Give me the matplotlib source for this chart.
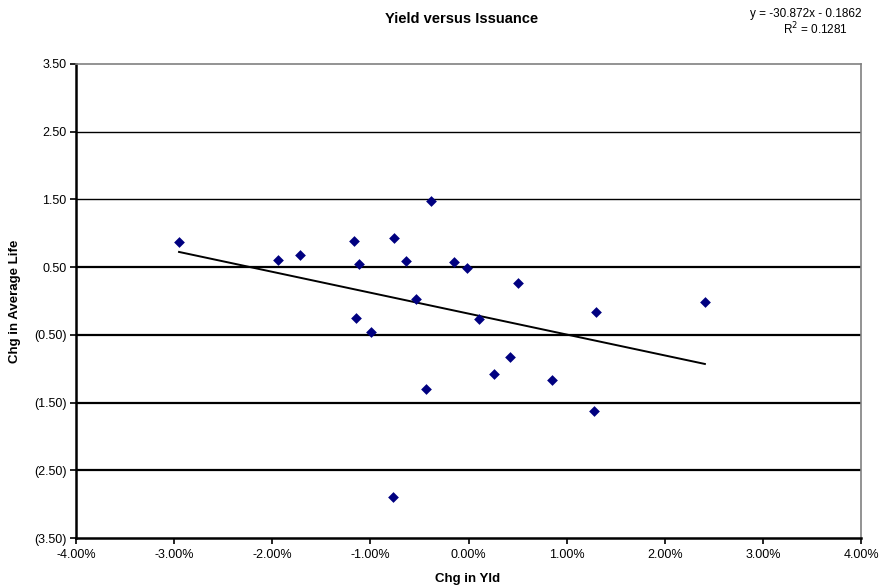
import matplotlib
matplotlib.use("Agg")
import matplotlib.pyplot as plt
from matplotlib.ticker import FuncFormatter, MultipleLocator
import numpy as np

plt.rcParams['font.family'] = ['Liberation Sans', 'DejaVu Sans']

# Data (x in %, y in years)
chg_yld = [-2.950, -1.941, -1.717, -1.169, -1.112, -0.758, -0.636, -0.381,
           -0.537, -1.149, -0.990, -0.150, -0.017, 0.506, 0.108, 1.298,
           2.409, 0.427, 0.258, 0.852, -0.432, 1.283, -0.766]
chg_avg_life = [0.875, 0.600, 0.679, 0.890, 0.550, 0.934, 0.590, 1.481,
                0.033, -0.247, -0.451, 0.571, 0.491, 0.265, -0.267, -0.168,
                -0.020, -0.823, -1.075, -1.172, -1.301, -1.626, -2.896]

slope = -30.872
intercept = -0.1862
r_squared = 0.1281

title = "Yield versus Issuance"
xlabel = "Chg in Yld"
ylabel = "Chg in Average Life"

x = np.array(chg_yld) / 100.0
y = np.array(chg_avg_life)

fig = plt.figure(figsize=(8.81, 5.86), dpi=100)
ax = fig.add_axes([76/881, 1-538/586, (861-76)/881, (538-64)/586])

ax.set_xlim(-0.04, 0.04)
ax.set_ylim(-3.5, 3.5)
ax.xaxis.set_major_locator(MultipleLocator(0.01))
ax.set_yticks(np.arange(-3.5, 3.51, 1.0))

def yfmt(v, pos):
    if v < 0:
        return "({:.2f})".format(abs(v))
    return "{:.2f}".format(v)

ax.yaxis.set_major_formatter(FuncFormatter(yfmt))
ax.xaxis.set_major_formatter(FuncFormatter(lambda v, p: "{:.2f}%".format(v*100)))

for yt in np.arange(-2.5, 3.0, 1.0):
    lw = 1.0 if yt > 1 else 1.6
    ax.axhline(yt, color='black', lw=lw, zorder=1)

# Trendline
xl = np.array([x.min(), x.max()])
ax.plot(xl, slope*xl + intercept, color='black', lw=1.4, zorder=2)

ax.scatter(x, y, marker='D', s=30, color='#000080', zorder=3, linewidths=0)

for s in ['top', 'right']:
    ax.spines[s].set_color('#808080')
    ax.spines[s].set_linewidth(1.2)
for s in ['left', 'bottom']:
    ax.spines[s].set_color('black')
    ax.spines[s].set_linewidth(1.8)

ax.tick_params(axis='both', direction='out', length=4, width=1.2, labelsize=9, color='black')
ax.tick_params(axis='y', pad=3)
ax.tick_params(axis='x', pad=4)

fig.text(462/881, 1-19/586, title, ha='center', va='center', fontsize=10.5, fontweight='bold')
fig.text(468/881, 1-579/586, xlabel, ha='center', va='center', fontsize=9.5, fontweight='bold')
fig.text(15/881, 1-301/586, ylabel, ha='center', va='center', fontsize=9.5, fontweight='bold', rotation=90)

fig.text(806/881, 1-14/586, "y = -30.872x - 0.1862", ha='center', va='center', fontsize=8.5)
fig.text(816/881, 1-29/586, "R$^2$ = {:.4f}".format(r_squared), ha='center', va='center', fontsize=8.5)

fig.savefig("out.png", dpi=100)
